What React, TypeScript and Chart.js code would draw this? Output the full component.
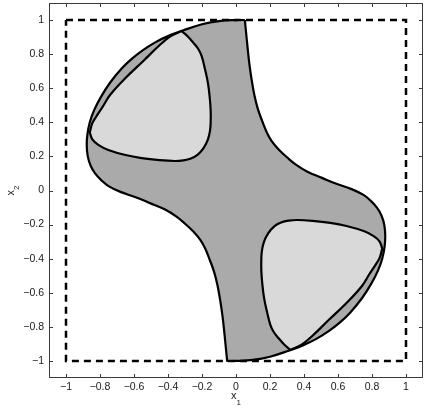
import { useEffect, useRef } from 'react';
import { Chart, registerables } from 'chart.js';

Chart.register(...registerables);

const AXIS_MIN = -1.1;
const AXIS_MAX = 1.1;
const TICK_VALUES = [-1, -0.8, -0.6, -0.4, -0.2, 0, 0.2, 0.4, 0.6, 0.8, 1];
const TICK_LABELS = ['\u22121', '\u22120.8', '\u22120.6', '\u22120.4', '\u22120.2', '0', '0.2', '0.4', '0.6', '0.8', '1'];

const BOX_X = [-1, 1, 1, -1, -1];
const BOX_Y = [1, 1, -1, -1, 1];

const OUTER_X = [
  0.052, 0.0, -0.1, -0.2, -0.31, -0.39, -0.47, -0.545, -0.61, -0.67, -0.741, -0.795, -0.835, -0.86, -0.874, -0.878,
  -0.872, -0.855, -0.829, -0.79, -0.75, -0.68, -0.594, -0.506, -0.42, -0.35, -0.3, -0.251, -0.21, -0.182, -0.155,
  -0.128, -0.108, -0.092, -0.079, -0.068, -0.06, -0.052, -0.052,
  0.0, 0.1, 0.2, 0.31, 0.39, 0.47, 0.545, 0.61, 0.67, 0.741, 0.795, 0.835, 0.86, 0.874, 0.878,
  0.872, 0.855, 0.829, 0.79, 0.75, 0.68, 0.594, 0.506, 0.42, 0.35, 0.3, 0.251, 0.21, 0.182, 0.155,
  0.128, 0.108, 0.092, 0.079, 0.068, 0.06, 0.052,
];
const OUTER_Y = [
  1.0, 1.0, 0.994, 0.975, 0.94, 0.91, 0.872, 0.825, 0.775, 0.718, 0.632, 0.548, 0.47, 0.4, 0.33, 0.265,
  0.2, 0.145, 0.1, 0.058, 0.026, -0.008, -0.038, -0.074, -0.11, -0.153, -0.195, -0.241, -0.29, -0.339, -0.405,
  -0.48, -0.56, -0.65, -0.74, -0.84, -0.92, -1.0, -1.0,
  -1.0, -0.994, -0.975, -0.94, -0.91, -0.872, -0.825, -0.775, -0.718, -0.632, -0.548, -0.47, -0.4, -0.33, -0.265,
  -0.2, -0.145, -0.1, -0.058, -0.026, 0.008, 0.038, 0.074, 0.11, 0.153, 0.195, 0.241, 0.29, 0.339, 0.405,
  0.48, 0.56, 0.65, 0.74, 0.84, 0.92, 1.0,
];

const UPPER_TRI_X = [
  -0.32, -0.285, -0.251, -0.222, -0.202, -0.182, -0.165, -0.155, -0.149, -0.149, -0.153, -0.165, -0.19, -0.225,
  -0.265, -0.31, -0.36, -0.45, -0.555, -0.65, -0.751, -0.81, -0.845, -0.86, -0.86,
  -0.845, -0.815, -0.785, -0.741, -0.65, -0.545, -0.45, -0.388, -0.32,
];
const UPPER_TRI_Y = [
  0.935, 0.905, 0.867, 0.83, 0.788, 0.71, 0.63, 0.55, 0.47, 0.4, 0.35, 0.3, 0.25, 0.21,
  0.188, 0.177, 0.173, 0.178, 0.19, 0.208, 0.238, 0.268, 0.3, 0.34, 0.34,
  0.395, 0.445, 0.49, 0.56, 0.66, 0.76, 0.852, 0.903, 0.935,
];

const LOWER_TRI_X = [
  0.32, 0.285, 0.251, 0.222, 0.202, 0.182, 0.165, 0.155, 0.149, 0.149, 0.153, 0.165, 0.19, 0.225,
  0.265, 0.31, 0.36, 0.45, 0.555, 0.65, 0.751, 0.81, 0.845, 0.86, 0.86,
  0.845, 0.815, 0.785, 0.741, 0.65, 0.545, 0.45, 0.388, 0.32,
];
const LOWER_TRI_Y = [
  -0.935, -0.905, -0.867, -0.83, -0.788, -0.71, -0.63, -0.55, -0.47, -0.4, -0.35, -0.3, -0.25, -0.21,
  -0.188, -0.177, -0.173, -0.178, -0.19, -0.208, -0.238, -0.268, -0.3, -0.34, -0.34,
  -0.395, -0.445, -0.49, -0.56, -0.66, -0.76, -0.852, -0.903, -0.935,
];

const toPoints = (xs: number[], ys: number[]) => xs.map((x, i) => ({ x, y: ys[i] }));

const FONT = '"Liberation Sans", Arial, Helvetica, sans-serif';

const framePlugin = {
  id: 'matlabFrame',
  afterDraw(chart: any) {
    const { ctx, chartArea: a, scales } = chart;
    const xs = scales.x;
    const ys = scales.y;
    ctx.save();
    ctx.strokeStyle = '#3a3a3a';
    ctx.lineWidth = 1;
    ctx.strokeRect(a.left + 0.5, a.top + 0.5, a.right - a.left - 1, a.bottom - a.top - 1);
    const tl = 4;
    ctx.beginPath();
    TICK_VALUES.forEach((v) => {
      const px = Math.round(xs.getPixelForValue(v)) + 0.5;
      ctx.moveTo(px, a.bottom);
      ctx.lineTo(px, a.bottom - tl);
      ctx.moveTo(px, a.top);
      ctx.lineTo(px, a.top + tl);
      const py = Math.round(ys.getPixelForValue(v)) + 0.5;
      ctx.moveTo(a.left, py);
      ctx.lineTo(a.left + tl, py);
      ctx.moveTo(a.right, py);
      ctx.lineTo(a.right - tl, py);
    });
    ctx.stroke();

    // axis labels x_1 and x_2
    ctx.fillStyle = '#1a1a1a';
    ctx.textBaseline = 'alphabetic';
    ctx.textAlign = 'left';
    const cx = (a.left + a.right) / 2;
    ctx.font = `11px ${FONT}`;
    ctx.fillText('x', cx - 5, 399);
    ctx.font = `8px ${FONT}`;
    ctx.fillText('1', cx + 0.5, 405);

    const cy = (a.top + a.bottom) / 2;
    ctx.translate(14, cy + 5);
    ctx.rotate(-Math.PI / 2);
    ctx.font = `11px ${FONT}`;
    ctx.fillText('x', 0, 0);
    ctx.font = `8px ${FONT}`;
    ctx.fillText('2', 5.5, 5);
    ctx.restore();
  },
};

export default function App() {
  const ref = useRef<HTMLCanvasElement | null>(null);

  useEffect(() => {
    if (!ref.current) return;
    const shapeCommon = {
      showLine: true,
      pointRadius: 0,
      borderColor: '#000000',
      borderWidth: 2.2,
      borderJoinStyle: 'round',
      tension: 0.4,
      fill: 'shape',
    };
    const chart = new Chart(ref.current, {
      type: 'scatter',
      data: {
        datasets: [
          {
            label: 'box',
            data: toPoints(BOX_X, BOX_Y),
            showLine: true,
            pointRadius: 0,
            borderColor: '#000000',
            borderWidth: 2.5,
            borderDash: [7, 5],
            borderCapStyle: 'butt',
            tension: 0,
            fill: false,
            order: 0,
          },
          { label: 'upper', data: toPoints(UPPER_TRI_X, UPPER_TRI_Y), backgroundColor: '#d9d9d9', order: 1, ...shapeCommon },
          { label: 'lower', data: toPoints(LOWER_TRI_X, LOWER_TRI_Y), backgroundColor: '#d9d9d9', order: 1, ...shapeCommon },
          { label: 'outer', data: toPoints(OUTER_X, OUTER_Y), backgroundColor: '#aaaaaa', order: 2, ...shapeCommon },
        ],
      } as any,
      options: {
        animation: false,
        responsive: false,
        devicePixelRatio: 1,
        layout: { padding: { top: 3, right: 4, left: 0, bottom: 0 } },
        plugins: {
          legend: { display: false },
          tooltip: { enabled: false },
          filler: { drawTime: 'beforeDatasetsDraw', propagate: false },
        },
        scales: {
          x: {
            type: 'linear',
            min: AXIS_MIN,
            max: AXIS_MAX,
            grid: { display: false, drawTicks: false },
            border: { display: false },
            afterBuildTicks: (axis: any) => {
              axis.ticks = TICK_VALUES.map((value) => ({ value }));
            },
            afterFit: (axis: any) => {
              axis.height = 33;
              axis.paddingLeft = 0;
              axis.paddingRight = 0;
            },
            ticks: {
              padding: 3,
              color: '#1a1a1a',
              font: { family: FONT, size: 10.5 },
              maxRotation: 0,
              autoSkip: false,
              callback: (_v: any, i: number) => TICK_LABELS[i],
            },
          },
          y: {
            type: 'linear',
            min: AXIS_MIN,
            max: AXIS_MAX,
            grid: { display: false, drawTicks: false },
            border: { display: false },
            afterBuildTicks: (axis: any) => {
              axis.ticks = TICK_VALUES.map((value) => ({ value }));
            },
            afterFit: (axis: any) => {
              axis.width = 49;
              axis.paddingTop = 0;
              axis.paddingBottom = 0;
            },
            ticks: {
              padding: 5,
              color: '#1a1a1a',
              font: { family: FONT, size: 10.5 },
              autoSkip: false,
              callback: (_v: any, i: number) => TICK_LABELS[i],
            },
          },
        },
      } as any,
      plugins: [framePlugin],
    });
    return () => chart.destroy();
  }, []);

  return (
    <div style={{ position: 'absolute', left: 0, top: 0, width: 427, height: 411, background: '#ffffff' }}>
      <canvas ref={ref} width={427} height={411} style={{ display: 'block' }} />
    </div>
  );
}
